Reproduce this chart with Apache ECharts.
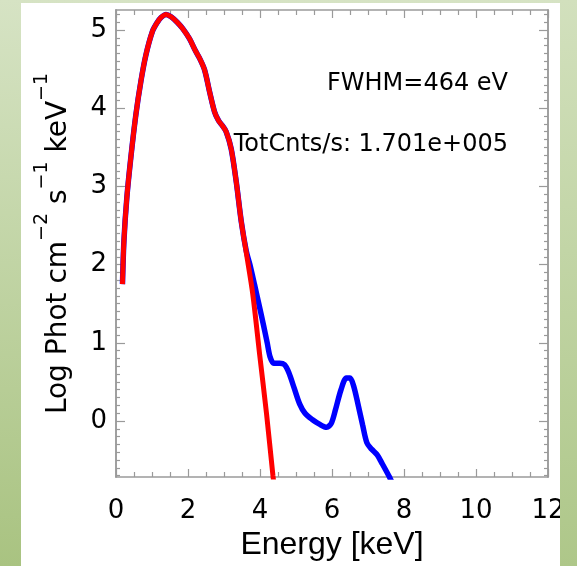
<!DOCTYPE html>
<html>
<head>
<meta charset="utf-8">
<script src="https://cdn.jsdelivr.net/npm/echarts@6/dist/echarts.min.js"></script>
<style>
html,body{margin:0;padding:0;background:#fff;}
#chart{width:577px;height:566px;}
</style>
</head>
<body>
<div id="chart"></div>
<script>
// ---- data ----
const xTicks = [0, 2, 4, 6, 8, 10, 12];
const yTicks = [0, 1, 2, 3, 4, 5];

// shared low-energy part (model and data overlap)
const energyCommon = [0.18, 0.22, 0.30, 0.41, 0.55, 0.69, 0.83, 1.01, 1.15, 1.25, 1.39, 1.53, 1.70, 1.85, 2.04, 2.20, 2.32, 2.46, 2.60, 2.74, 2.85, 2.95, 3.06, 3.20, 3.34, 3.48];
const logCommon    = [1.75, 2.30, 2.85, 3.36, 3.91, 4.34, 4.68, 4.98, 5.10, 5.16, 5.20, 5.17, 5.10, 5.02, 4.89, 4.74, 4.64, 4.49, 4.21, 3.95, 3.84, 3.78, 3.70, 3.48, 3.06, 2.55];

// model (red) tail
const energyModelTail = [3.62, 3.80, 3.99, 4.18, 4.36, 4.45];
const logModelTail    = [2.15, 1.62, 0.85, 0.10, -0.70, -1.05];

// data (blue) tail
const energyDataTail = [3.62, 3.72, 3.85, 4.00, 4.10, 4.20, 4.28, 4.38, 4.55, 4.68, 4.80, 4.95, 5.10, 5.25, 5.45, 5.65, 5.85, 5.98, 6.10, 6.25, 6.40, 6.50, 6.60, 6.72, 6.85, 6.97, 7.10, 7.25, 7.40, 7.60, 7.70];
const logDataTail    = [2.17, 2.00, 1.74, 1.43, 1.22, 1.00, 0.82, 0.74, 0.74, 0.72, 0.62, 0.42, 0.22, 0.10, 0.02, -0.04, -0.08, -0.03, 0.15, 0.40, 0.55, 0.55, 0.45, 0.22, -0.05, -0.28, -0.36, -0.43, -0.55, -0.72, -0.82];

const annotations = ['FWHM=464 eV', 'TotCnts/s: 1.701e+005'];
const xTitle = 'Energy [keV]';

// ---- build ----
function pairs(xs, ys) { return xs.map((x, i) => [x, ys[i]]); }
const modelData = pairs(energyCommon.concat(energyModelTail), logCommon.concat(logModelTail));
const obsData = pairs(energyCommon.concat(energyDataTail), logCommon.concat(logDataTail));

const yMin = -0.716, yMax = 5.256;
const yMinor = [];
for (let k = -7; k <= 52; k++) { if (k % 10 !== 0) yMinor.push(k / 10); }

const frame = { show: true, onZero: false, lineStyle: { color: '#9a9a9a', width: 1.5 } };
const tickStyle = { color: '#9a9a9a', width: 1.2 };
const FONT = 'DejaVu Sans';
const INK = '#000';

const chart = echarts.init(document.getElementById('chart'), null, { renderer: 'canvas' });
chart.setOption({
  animation: false,
  backgroundColor: 'transparent',
  grid: { left: 116, right: 29, top: 10, bottom: 89, containLabel: false },
  xAxis: [
    {
      type: 'value', position: 'bottom', min: 0, max: 12, interval: 2,
      axisLine: frame,
      axisTick: { inside: true, length: 8, lineStyle: tickStyle },
      minorTick: { show: true, splitNumber: 4, length: 5, lineStyle: tickStyle },
      splitLine: { show: false },
      axisLabel: { color: INK, fontFamily: FONT, fontSize: 26, margin: 21,
                   customValues: xTicks },
      name: xTitle, nameLocation: 'middle', nameGap: 51,
      nameTextStyle: { color: INK, fontFamily: 'Liberation Sans', fontSize: 32 }
    },
    {
      type: 'value', position: 'top', min: 0, max: 12, interval: 2,
      axisLine: frame,
      axisTick: { inside: true, length: 8, lineStyle: tickStyle },
      minorTick: { show: true, splitNumber: 4, length: 5, lineStyle: tickStyle },
      splitLine: { show: false },
      axisLabel: { show: false }
    }
  ],
  yAxis: [
    {
      type: 'value', position: 'left', min: yMin, max: yMax,
      axisLine: frame,
      axisTick: { inside: true, length: 9, lineStyle: tickStyle, customValues: yTicks },
      splitLine: { show: false },
      axisLabel: { color: INK, fontFamily: FONT, fontSize: 26, margin: 9, customValues: yTicks },
      name: '{a|Log Phot cm}{s|\u22122}{a| s}{s|\u22121}{a| keV}{s|\u22121}',
      nameLocation: 'middle', nameRotate: 90, nameGap: 43,
      nameTextStyle: {
        color: INK,
        rich: {
          a: { fontFamily: FONT, fontSize: 28, lineHeight: 40, verticalAlign: 'bottom', color: INK },
          s: { fontFamily: FONT, fontSize: 19, lineHeight: 19, verticalAlign: 'top', color: INK }
        }
      }
    },
    {
      type: 'value', position: 'left', min: yMin, max: yMax,
      axisLine: frame,
      axisTick: { inside: true, length: 4, lineStyle: tickStyle, customValues: yMinor },
      splitLine: { show: false },
      axisLabel: { show: false }
    },
    {
      type: 'value', position: 'right', min: yMin, max: yMax,
      axisLine: frame,
      axisTick: { inside: true, length: 9, lineStyle: tickStyle, customValues: yTicks },
      splitLine: { show: false },
      axisLabel: { show: false }
    },
    {
      type: 'value', position: 'right', min: yMin, max: yMax,
      axisLine: frame,
      axisTick: { inside: true, length: 4, lineStyle: tickStyle, customValues: yMinor },
      splitLine: { show: false },
      axisLabel: { show: false }
    }
  ],
  series: [
    {
      type: 'line', name: 'data', xAxisIndex: 0, yAxisIndex: 0,
      data: obsData, showSymbol: false, smooth: 0.3, clip: true,
      lineStyle: { color: '#0000ff', width: 5.5 }, z: 2
    },
    {
      type: 'line', name: 'model', xAxisIndex: 0, yAxisIndex: 0,
      data: modelData, showSymbol: false, smooth: 0.3, clip: true,
      lineStyle: { color: '#ff0000', width: 5 }, z: 3
    }
  ],
  graphic: [
    {
      type: 'rect', z: -100, silent: true,
      shape: { x: 0, y: 0, width: 577, height: 566 },
      style: { fill: new echarts.graphic.LinearGradient(0, 0, 0, 1, [
        { offset: 0, color: '#d6e3c4' }, { offset: 1, color: '#a9c381' }]) }
    },
    {
      type: 'rect', z: -99, silent: true,
      shape: { x: 21, y: 3, width: 539, height: 563 },
      style: { fill: '#ffffff' }
    },
    {
      type: 'rect', z: 100, silent: true,
      shape: { x: 560, y: 0, width: 17, height: 566 },
      style: { fill: new echarts.graphic.LinearGradient(0, 0, 0, 1, [
        { offset: 0, color: '#d2e0bd' }, { offset: 1, color: '#aec789' }]) }
    },
    {
      type: 'text', z: 50, silent: true,
      style: { text: annotations[0], x: 508, y: 84, textAlign: 'right', textVerticalAlign: 'middle',
               font: '24px "DejaVu Sans"', fill: INK }
    },
    {
      type: 'text', z: 50, silent: true,
      style: { text: annotations[1], x: 508, y: 145, textAlign: 'right', textVerticalAlign: 'middle',
               font: '24px "DejaVu Sans"', fill: INK }
    }
  ]
});
</script>
</body>
</html>
